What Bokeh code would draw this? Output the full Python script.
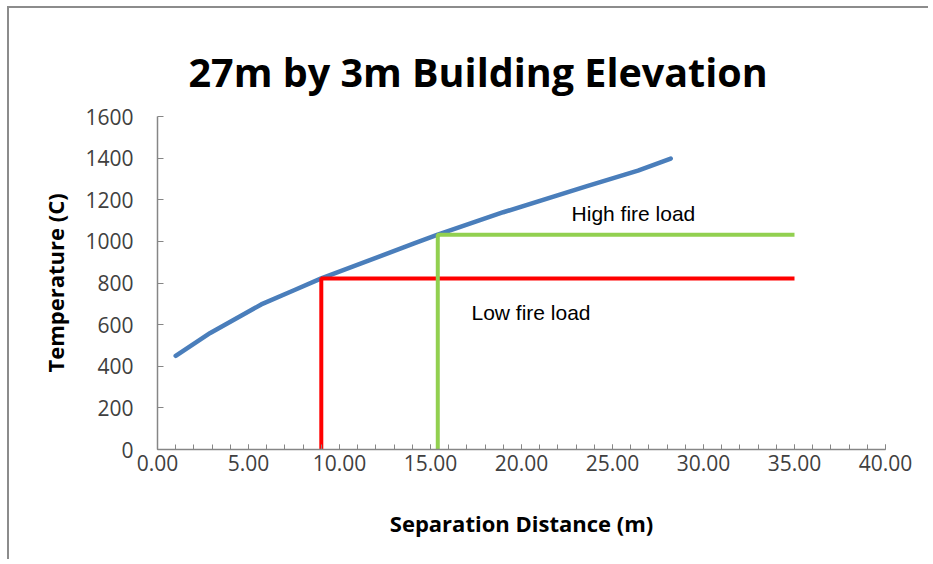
from bokeh.plotting import figure
from bokeh.models import Range1d, Label, FixedTicker, NumeralTickFormatter
from bokeh.embed import file_html
from bokeh.resources import INLINE

# ---- data ----
distance = [1.0, 2.9, 5.7, 7.5, 9.0, 14.1, 15.4, 19.0, 23.6, 26.4, 28.2]
temperature = [450, 560, 697, 765, 822, 990, 1032, 1140, 1265, 1340, 1398]

low_x = [9.0, 9.0, 35.0]
low_y = [0, 822, 822]
high_x = [15.4, 15.4, 35.0]
high_y = [0, 1032, 1032]

x_ticks = [0, 5, 10, 15, 20, 25, 30, 35, 40]
y_ticks = [0, 200, 400, 600, 800, 1000, 1200, 1400, 1600]

title_text = "27m by 3m Building Elevation"
x_label = "Separation Distance (m)"
y_label = "Temperature (C)"
high_text = "High fire load"
low_text = "Low fire load"

BORDER = "#8c8c8c"
AXIS = "#868686"

p = figure(width=921, height=553, output_backend="svg", toolbar_location=None,
           x_range=Range1d(0, 40), y_range=Range1d(0, 1600),
           min_border_left=148, min_border_right=45,
           min_border_top=108, min_border_bottom=112,
           title=title_text)
p.styles = {"margin-left": "7px", "margin-top": "6px",
            "border-top": f"2px solid {BORDER}", "border-left": f"2px solid {BORDER}"}
p.outline_line_color = None
p.grid.visible = False

p.title.align = "left"
p.title.vertical_align = "middle"
p.title.offset = 31
p.title.standoff = 34
p.title.text_font = "Open Sans"
p.title.text_font_style = "bold"
p.title.text_font_size = "39.5px"
p.title.text_color = "black"

# axes
xa = p.xaxis[0]
xa.ticker = FixedTicker(ticks=x_ticks, minor_ticks=list(range(0, 41)))
xa.formatter = NumeralTickFormatter(format="0.00")
ya = p.yaxis[0]
ya.ticker = FixedTicker(ticks=y_ticks)

for ax in (xa, ya):
    ax.axis_line_color = AXIS
    ax.axis_line_width = 1.5
    ax.major_tick_line_color = AXIS
    ax.minor_tick_line_color = AXIS
    ax.major_tick_out = 0
    ax.major_tick_in = 6
    ax.minor_tick_out = 0
    ax.major_label_text_font = "Open Sans"
    ax.major_label_text_font_size = "21px"
    ax.major_label_text_color = "#404040"
    ax.axis_label_text_font = "Open Sans"
    ax.axis_label_text_font_style = "bold"
    ax.axis_label_text_font_size = "22px"
    ax.axis_label_text_color = "black"

xa.minor_tick_in = 5
ya.minor_tick_in = 0
xa.major_tick_in = 5
xa.major_label_standoff = 5
ya.major_label_standoff = 24
xa.axis_label = x_label
ya.axis_label = y_label
xa.axis_label_standoff = 34
ya.axis_label_standoff = 12

# series
p.line(distance, temperature, line_color="#4a7ebb", line_width=4.5, line_cap="round", line_join="round")
p.line(low_x, low_y, line_color="#ff0000", line_width=4)
p.line(high_x, high_y, line_color="#92d050", line_width=4)

p.add_layout(Label(x=22.75, y=1135, text=high_text, text_font="Liberation Sans",
                   text_font_size="21px", text_color="black", text_baseline="middle"))
p.add_layout(Label(x=17.25, y=657, text=low_text, text_font="Liberation Sans",
                   text_font_size="21px", text_color="black", text_baseline="middle"))

open("out.html", "w").write(file_html(p, INLINE))
